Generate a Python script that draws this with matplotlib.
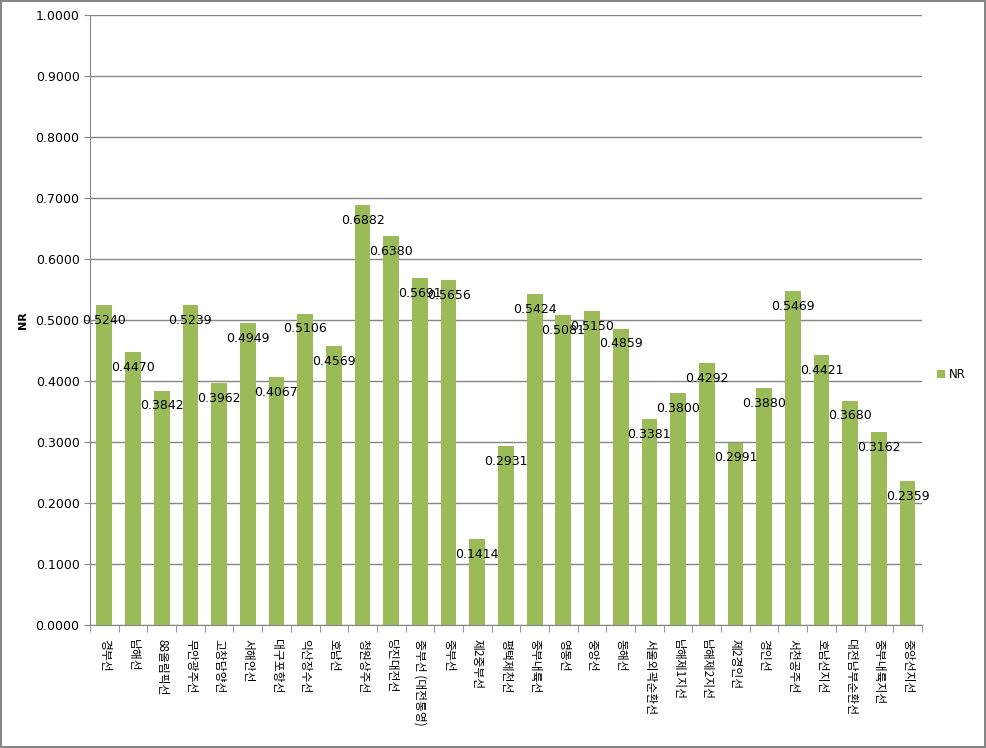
import matplotlib.pyplot as plt
import numpy as np

plt.rcParams['font.family'] = ['Noto Sans CJK KR', 'DejaVu Sans']

routes = ['경부선', '남해선', '88올림픽선', '무안광주선', '고창담양선', '서해안선',
          '대구포항선', '익산장수선', '호남선', '청원상주선', '당진대전선',
          '중부선 (대전통영)', '중부선', '제2중부선', '평택제천선', '중부내륙선',
          '영동선', '중앙선', '동해선', '서울외곽순환선', '남해제1지선', '남해제2지선',
          '제2경인선', '경인선', '서천공주선', '호남선지선', '대전남부순환선',
          '중부내륙지선', '중앙선지선']
nr = [0.5240, 0.4470, 0.3842, 0.5239, 0.3962, 0.4949, 0.4067, 0.5106, 0.4569,
      0.6882, 0.6380, 0.5691, 0.5656, 0.1414, 0.2931, 0.5424, 0.5081, 0.5150,
      0.4859, 0.3381, 0.3800, 0.4292, 0.2991, 0.3880, 0.5469, 0.4421, 0.3680,
      0.3162, 0.2359]
yticks = np.arange(0, 1.01, 0.1)

fig = plt.figure(figsize=(9.86, 7.48), dpi=100)
fig.patch.set_edgecolor('#868686')
fig.patch.set_linewidth(1.5)
ax = fig.add_axes([0.0913, 0.1644, 0.8437, 0.8156])

x = np.arange(len(routes))
ax.bar(x, nr, width=0.55, color='#9BBB59', label='NR', zorder=3)
for xi, v in zip(x, nr):
    ax.annotate('%.4f' % v, (xi, v), xytext=(0, -11), textcoords='offset points',
                ha='center', va='center', fontsize=9, family='DejaVu Sans', zorder=4)

ax.set_xlim(-0.5, len(routes) - 0.5)
ax.set_ylim(0, 1.0)
ax.set_yticks(yticks)
ax.set_yticklabels(['%.4f' % t for t in yticks], fontsize=9, family='DejaVu Sans')
ax.yaxis.grid(True, color='#868686', linewidth=1, zorder=0)
ax.tick_params(axis='y', length=4, color='#868686')

ax.set_xticks(x)
ax.set_xticklabels(routes, rotation=270, fontsize=8.5, va='top', ha='center')
ax.set_xticks(np.arange(-0.5, len(routes), 1), minor=True)
ax.tick_params(axis='x', which='major', length=0, pad=10)
ax.tick_params(axis='x', which='minor', length=5, color='#868686')

for s in ['top', 'right']:
    ax.spines[s].set_visible(False)
for s in ['left', 'bottom']:
    ax.spines[s].set_color('#868686')

ax.set_ylabel('NR', fontsize=8, fontweight='bold', family='DejaVu Sans')
ax.yaxis.set_label_coords(-0.075, 0.5)

ax.legend(loc='center left', bbox_to_anchor=(1.005, 0.41), frameon=False,
          handlelength=0.7, handleheight=0.7, handletextpad=0.3,
          prop={'family': 'DejaVu Sans', 'size': 8.5})

fig.savefig('out.png', dpi=100, edgecolor=fig.get_edgecolor())
